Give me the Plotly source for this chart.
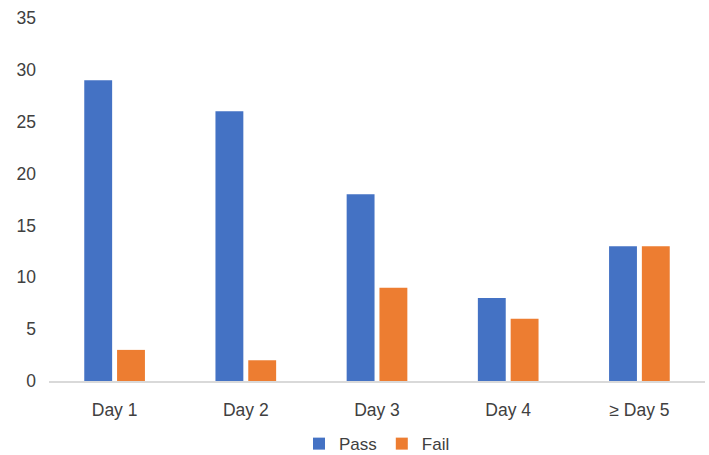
import plotly.graph_objects as go

days = ["Day 1", "Day 2", "Day 3", "Day 4", "≥ Day 5"]
pass_counts = [29, 26, 18, 8, 13]
fail_counts = [3, 2, 9, 6, 13]
y_ticks = [0, 5, 10, 15, 20, 25, 30, 35]

fig = go.Figure()
fig.add_trace(go.Bar(name="Pass", x=days, y=pass_counts, marker_color="#4472C4",
                     marker_line_width=0))
fig.add_trace(go.Bar(name="Fail", x=days, y=fail_counts, marker_color="#ED7D31",
                     marker_line_width=0))

fig.update_layout(
    width=709, height=455,
    margin=dict(l=49, r=4, t=18, b=74, autoexpand=False),
    paper_bgcolor="white", plot_bgcolor="white",
    barmode="group", bargap=0.5, bargroupgap=0.15,
    font=dict(family="Liberation Sans, Arial, sans-serif", size=17.5, color="#404040"),
    legend=dict(orientation="h", x=0.5, xanchor="center",
                yref="container", y=0.024, yanchor="middle",
                font=dict(size=17, color="#404040"), itemwidth=30,
                traceorder="normal", tracegroupgap=0),
    showlegend=True,
)
fig.update_xaxes(showline=True, linecolor="#D9D9D9", linewidth=1.5, ticks="",
                 showgrid=False, zeroline=False, ticklabelstandoff=12,
                 automargin=False)
fig.update_yaxes(range=[0, 35], tickvals=y_ticks, showgrid=False, zeroline=False,
                 showline=False, ticks="", ticklabelstandoff=12, automargin=False)

fig.write_html("out.html")
